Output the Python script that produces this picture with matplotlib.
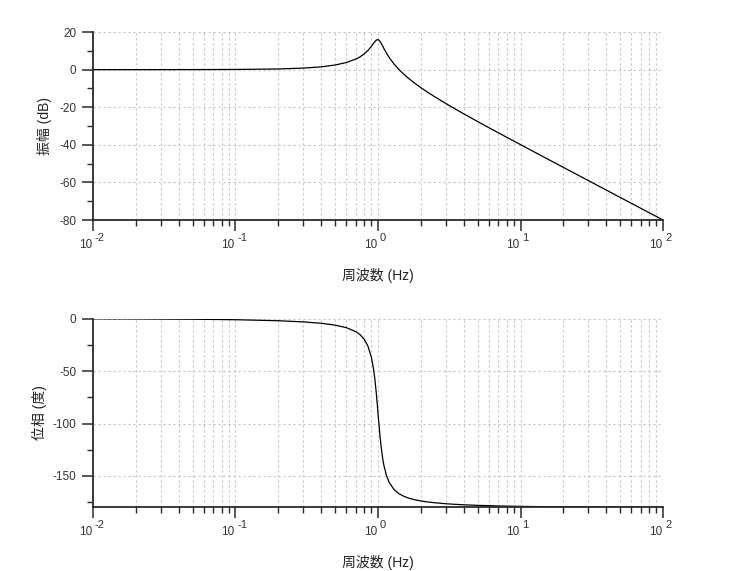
import numpy as np
import matplotlib
matplotlib.use('Agg')
import matplotlib.pyplot as plt
from matplotlib.ticker import FixedLocator, MultipleLocator, NullFormatter

plt.rcParams['font.family'] = ['Liberation Sans', 'Noto Sans CJK JP', 'DejaVu Sans']
plt.rcParams['axes.unicode_minus'] = False

#%% Data

freq = [0.01, 0.02, 0.05, 0.1, 0.2, 0.3, 0.4, 0.5, 0.6, 0.7, 0.75, 0.8, 0.85, 0.9,
        0.93, 0.95, 0.97, 0.99, 1.0, 1.01, 1.03, 1.05, 1.08, 1.1, 1.15, 1.2, 1.3,
        1.4, 1.5, 1.6, 1.7, 1.8, 2.0, 2.2, 2.5, 3.0, 3.5, 4.0, 5.0, 6.0, 7.0, 10.0,
        15.0, 20.0, 30.0, 50.0, 100.0]

mag_db = [0.0, 0.0, 0.02, 0.09, 0.35, 0.81, 1.49, 2.45, 3.78, 5.64, 6.86, 8.36, 10.2, 12.45,
          13.94, 14.87, 15.59, 15.94, 15.92, 15.77, 15.1, 14.12, 12.4, 11.24, 8.61, 6.37, 2.84,
          0.12, -2.09, -3.98, -5.62, -7.08, -9.59, -11.72, -14.43, -18.07, -21.03, -23.53, -27.6,
          -30.88, -33.62, -39.9, -47.0, -52.0, -59.07, -67.96, -80.0]

phase_deg = [-0.09, -0.18, -0.46, -0.93, -1.91, -3.02, -4.36, -6.09, -8.53, -12.39, -15.3, -19.57, -26.1, -37.2,
             -47.8, -57.3, -69.2, -82.8, -90.0, -97.1, -110.3, -121.4, -133.9, -140.0, -150.3, -156.4, -163.2,
             -166.9, -169.1, -170.7, -171.8, -172.7, -173.9, -174.8, -175.6, -176.6, -177.15, -177.6, -178.1,
             -178.4, -178.7, -179.1, -179.4, -179.5, -179.7, -179.8, -179.9]

xtick_pos = [0.01, 0.1, 1, 10, 100]
xtick_exp = ['-2', '-1', '0', '1', '2']

#%% Figure

fig = plt.figure(figsize=(7.56, 5.71), dpi=100)
ax1 = fig.add_axes([0.1230, 0.6147, 0.754, 0.3292])
ax2 = fig.add_axes([0.1230, 0.1126, 0.754, 0.3292])

spine_col = '#2a2a2a'
grid_col = '#c4c4c4'
text_col = '#333333'

def style_axis(ax):
    ax.set_xscale('log')
    ax.set_xlim(0.01, 100)
    ax.spines['top'].set_visible(False)
    ax.spines['right'].set_visible(False)
    for s in ['left', 'bottom']:
        ax.spines[s].set_color(spine_col)
        ax.spines[s].set_linewidth(1.3)
    ax.xaxis.set_major_locator(FixedLocator(xtick_pos))
    ax.xaxis.set_major_formatter(NullFormatter())
    ax.xaxis.set_minor_formatter(NullFormatter())
    ax.tick_params(axis='both', which='major', direction='out', length=8, width=1.1,
                   color=spine_col, labelsize=8.5, labelcolor=text_col)
    ax.tick_params(axis='both', which='minor', direction='out', length=4, width=1.0,
                   color=spine_col)
    ax.tick_params(axis='y', which='major', pad=4)
    ax.grid(True, which='major', linestyle=(0, (2, 2.5)), color=grid_col, linewidth=0.8)
    ax.grid(True, which='minor', axis='x', linestyle=(0, (2, 2.5)), color=grid_col, linewidth=0.8)
    ax.set_axisbelow(True)
    # decade labels: "10" with a raised exponent beside it
    tr = ax.get_xaxis_transform()
    for pos, e in zip(xtick_pos, xtick_exp):
        ax.annotate('10', xy=(pos, 0), xycoords=tr, xytext=(-1, -25), textcoords='offset pixels',
                    ha='right', va='center', fontsize=8.5, color=text_col, annotation_clip=False)
        ax.annotate(e, xy=(pos, 0), xycoords=tr, xytext=(2, -18), textcoords='offset pixels',
                    ha='left', va='center', fontsize=8, color=text_col, annotation_clip=False)
    ax.set_xlabel('周波数 (Hz)', fontsize=10, color='#222222')
    ax.xaxis.set_label_coords(0.5, -0.255)

# Magnitude
ax1.plot(freq, mag_db, color='black', linewidth=0.9)
style_axis(ax1)
ax1.set_ylim(-80, 20)
ax1.yaxis.set_major_locator(MultipleLocator(20))
ax1.yaxis.set_minor_locator(MultipleLocator(10))
ax1.set_ylabel('振幅 (dB)', fontsize=10, color='#222222')
ax1.yaxis.set_label_coords(-0.072, 0.5)

# Phase
ax2.plot(freq, phase_deg, color='black', linewidth=0.9)
style_axis(ax2)
ax2.set_ylim(-179.4, 0)
ax2.yaxis.set_major_locator(FixedLocator([0, -50, -100, -150]))
ax2.yaxis.set_minor_locator(FixedLocator([-25, -75, -125, -175]))
ax2.set_ylabel('位相 (度)', fontsize=10, color='#222222')
ax2.yaxis.set_label_coords(-0.081, 0.5)

fig.savefig('out.png', dpi=100)
